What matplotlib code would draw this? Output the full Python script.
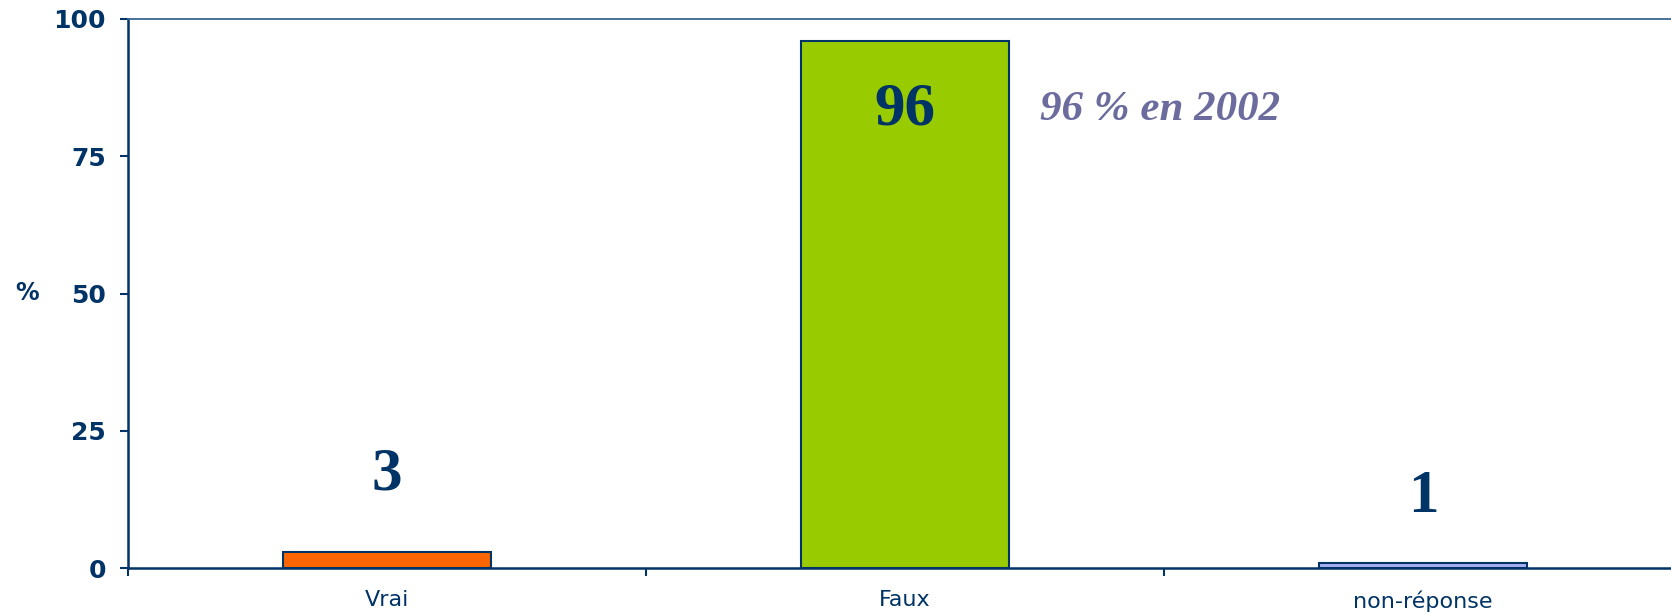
import numpy as np
import matplotlib.pyplot as plt

categories = ['Vrai', 'Faux', 'non-réponse']
values = [3, 96, 1]
colors = ['#FF6600', '#99CC00', '#A9B1F2']
label_y = [17, 83.5, 13]
yticks = [0, 25, 50, 75, 100]

navy = '#003366'
serif = ['Liberation Serif', 'DejaVu Serif']

fig = plt.figure(figsize=(16.71, 6.15), dpi=100)
ax = fig.add_axes([128 / 1671, 47 / 615, 1554 / 1671, 549 / 615])

x = np.arange(len(categories))
ax.bar(x, values, width=0.4, color=colors, edgecolor=navy, linewidth=1.5, zorder=3)

ax.set_xlim(-0.5, 2.5)
ax.set_ylim(0, 100)

ax.spines['right'].set_visible(False)
for s in ['left', 'bottom']:
    ax.spines[s].set_color(navy)
    ax.spines[s].set_linewidth(1.8)
ax.spines['top'].set_color('#3A6690')
ax.spines['top'].set_linewidth(1.3)

ax.set_yticks(yticks)
ax.set_yticklabels([str(v) for v in yticks], fontsize=18, fontweight='bold', color=navy)
ax.tick_params(axis='y', direction='out', length=6, width=1.5, color=navy, pad=10)

# major ticks at category borders, labels on minor ticks
ax.set_xticks(np.arange(-0.5, 3, 1))
ax.set_xticklabels([])
ax.tick_params(axis='x', which='major', direction='out', length=6, width=1.5, color=navy)
ax.set_xticks(x, minor=True)
ax.set_xticklabels(categories, minor=True, fontsize=16, color=navy)
ax.tick_params(axis='x', which='minor', length=0, pad=16)

for i, v in enumerate(values):
    ax.text(x[i], label_y[i], str(v), ha='center', va='center', fontsize=44,
            fontweight='bold', family=serif, color=navy, zorder=4)

ax.text(1.26, 83.5, '96 % en 2002', ha='left', va='center', fontsize=31,
        fontweight='bold', style='italic', family=serif, color='#6B6B9E')

fig.text(27 / 1671, 1 - 293 / 615, '%', ha='center', va='center', fontsize=17,
         fontweight='bold', color=navy)

fig.savefig('out.png', dpi=100)
